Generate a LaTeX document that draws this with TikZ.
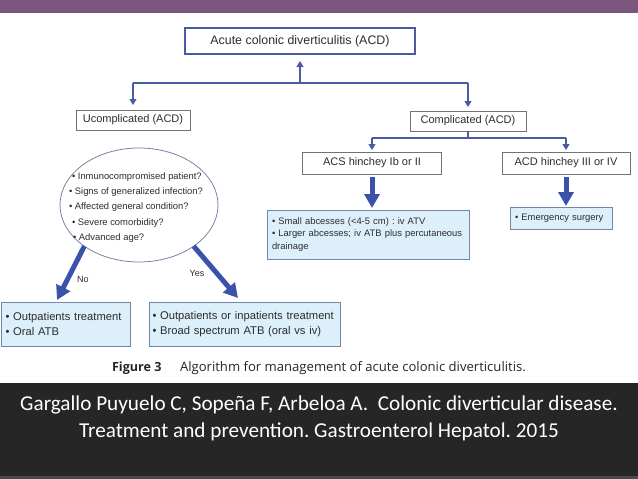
\documentclass[tikz,border=0pt]{standalone}
\usepackage{fontspec}
\setmainfont{Liberation Sans}
\newfontfamily\capfont{Open Sans}
\newfontfamily\bandfont{Carlito}
\usetikzlibrary{arrows.meta,shapes.geometric}
\definecolor{barpurple}{RGB}{124,87,125}
\definecolor{bandgray}{RGB}{38,38,38}
\definecolor{bandedge}{RGB}{75,75,75}
\definecolor{lineblue}{RGB}{72,92,165}
\definecolor{thickblue}{RGB}{58,82,170}
\definecolor{lightfill}{RGB}{220,239,250}
\definecolor{lightedge}{RGB}{115,135,165}
\definecolor{boxedge}{RGB}{115,115,115}
\definecolor{txt}{RGB}{45,45,45}
\frenchspacing
\begin{document}
\begin{tikzpicture}[x=1pt,y=-1pt,
  every node/.style={inner sep=0pt, outer sep=0pt, text=txt},
  conn/.style={draw=lineblue, line width=1.1pt},
  connarrow/.style={conn, -{Triangle[length=6pt,width=7pt]}},
  bigarrow/.style={draw=thickblue, line width=5pt, -{Triangle[length=14pt,width=15pt]}},
  mainbox/.style={draw=lineblue, line width=1.8pt, fill=white, font=\fontsize{12.4}{14}\selectfont},
  plainbox/.style={draw=boxedge, line width=0.8pt, fill=white, font=\fontsize{11}{13}\selectfont},
  lightbox/.style={draw=lightedge, line width=0.8pt, fill=lightfill, align=left},
  smalltext/.style={font=\fontsize{9.4}{12.5}\selectfont},
  bigtext/.style={font=\fontsize{11.2}{15}\selectfont}
]
\useasboundingbox (0,0) rectangle (638,479);
\fill[white] (0,0) rectangle (638,479);
% top bar
\fill[barpurple] (0,0) rectangle (638,13);
% bottom band
\fill[bandgray] (0,383) rectangle (638,479);
\fill[bandedge] (0,476) rectangle (638,479);

% main box
\node[mainbox, minimum width=230pt, minimum height=26pt] (main) at (300,41) {Acute colonic diverticulitis (ACD)};
\coordinate (j) at (300,83);
\coordinate (jl) at (133,83);
\coordinate (jr) at (468,83);
\node[plainbox, minimum width=114pt, minimum height=20pt] (uc) at (133,120) {Ucomplicated (ACD)};
\node[plainbox, minimum width=116pt, minimum height=20pt] (comp) at (468,121) {Complicated (ACD)};
\draw[connarrow, shorten >=7pt] (j) -- (main.south);
\draw[conn] (jl) -- (jr);
\draw[connarrow, shorten >=5pt] (jl) -- (uc.north);
\draw[connarrow, shorten >=4pt] (jr) -- (comp.north);

% complicated branch
\node[plainbox, minimum width=139pt, minimum height=22pt] (acs) at (372,163) {ACS hinchey Ib or II};
\node[plainbox, minimum width=128pt, minimum height=22pt] (acdh) at (566,163) {ACD hinchey III or IV};
\coordinate (cj) at (468,138);
\coordinate (cl) at (372,138);
\coordinate (cr) at (566,138);
\draw[conn] (comp.south) -- (cj);
\draw[conn] (cl) -- (cr);
\draw[connarrow, shorten >=2pt] (cl) -- (acs.north);
\draw[connarrow, shorten >=2pt] (cr) -- (acdh.north);

\node[lightbox, smalltext, anchor=north west, text width=192pt, inner xsep=5pt, inner ysep=4pt, minimum height=49pt] (lb1) at (267,210)
  {• Small abcesses (<4-5 cm) : iv ATV\\• Larger abcesses; iv ATB plus percutaneous\\drainage};
\node[lightbox, smalltext, anchor=north west, text width=92pt, inner xsep=5pt, inner ysep=5pt, minimum height=22pt] (emerg) at (510,207)
  {• Emergency surgery};
\draw[bigarrow, shorten >=2pt] ([yshift=-3pt]acs.south) -- (lb1.north -| acs.south);
\draw[bigarrow, shorten >=1pt] ([yshift=-3pt]acdh.south) -- (emerg.north -| acdh.south);

% uncomplicated branch
\node[ellipse, draw=lightedge, line width=0.8pt, minimum width=158pt, minimum height=114pt] (ell) at (139,205) {};
\node[anchor=west, align=left, font=\fontsize{9.4}{15.2}\selectfont] (elltext) at (69,207.5)
  {\hspace*{3pt}• Inmunocompromised patient?\\
   • Signs of generalized infection?\\
   • Affected general condition?\\[1pt]
   \hspace*{3pt}• Severe comorbidity?\\
   \hspace*{4pt}• Advanced age?};

\node[lightbox, bigtext, anchor=north west, text width=120pt, inner xsep=4.5pt, minimum height=44pt] (outp) at (1,302)
  {• Outpatients treatment\\• Oral ATB};
\node[lightbox, bigtext, anchor=north west, text width=184pt, inner xsep=3.5pt, minimum height=44pt] (inp) at (149,302)
  {• Outpatients or inpatients treatment\\• Broad spectrum ATB (oral vs iv)};
\coordinate (notip) at (57,300);
\coordinate (yestip) at (238,298);
\draw[bigarrow] (ell.217) -- (notip);
\draw[bigarrow] (ell.323) -- (yestip);
\node[font=\fontsize{9}{10}\selectfont] (no) at (83,279) {No};
\node[font=\fontsize{9}{10}\selectfont] (yes) at (197,273) {Yes};

% caption
\node[anchor=west, font=\capfont\bfseries\fontsize{12.6}{14}\selectfont, text=black!85] (fig) at (112,368) {Figure 3};
\node[anchor=west, font=\capfont\fontsize{13.1}{15}\selectfont, text=black!85] (alg) at (180,368) {Algorithm for management of acute colonic diverticulitis.};

% citation
\node[align=center, font=\bandfont\fontsize{21.2}{27}\selectfont, text=white] (cite) at (319,418)
  {Gargallo Puyuelo C, Sopeña F, Arbeloa A.~ Colonic diverticular disease.\\Treatment and prevention. Gastroenterol Hepatol. 2015};
\end{tikzpicture}
\end{document}
